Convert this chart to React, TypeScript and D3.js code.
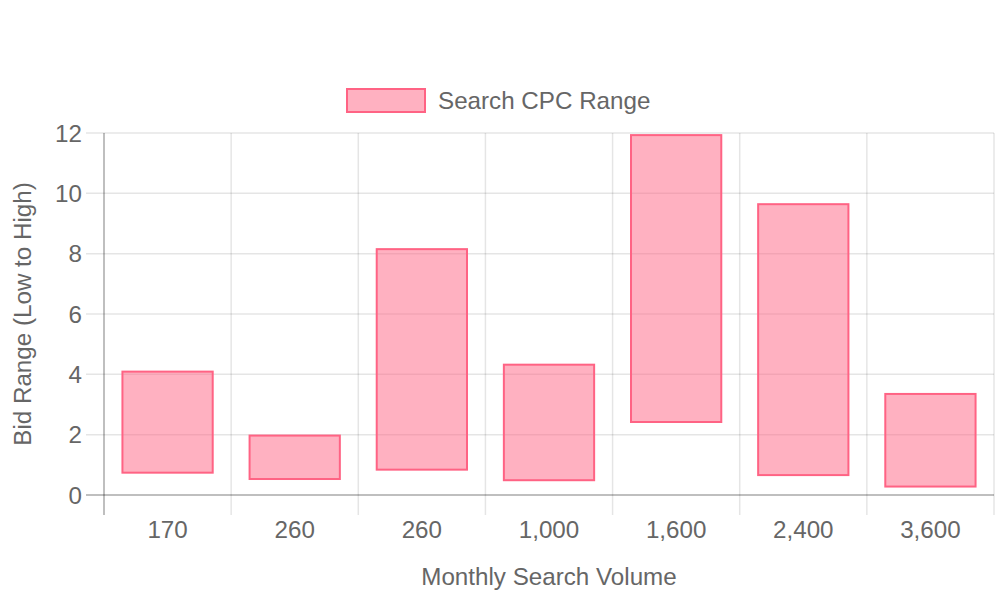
import React from "react";
import * as d3 from "d3";

const categories = ["170", "260", "260", "1,000", "1,600", "2,400", "3,600"];
const lowValues = [0.74, 0.53, 0.84, 0.49, 2.42, 0.66, 0.28];
const highValues = [4.09, 1.97, 8.15, 4.32, 11.93, 9.64, 3.35];
const yTicks = [0, 2, 4, 6, 8, 10, 12];
const seriesName = "Search CPC Range";
const xTitle = "Monthly Search Volume";
const yTitle = "Bid Range (Low to High)";

const W = 1000;
const H = 600;
const plot = { left: 104, right: 994, top: 133, bottom: 495 };
const FONT = "'Liberation Sans', Arial, Helvetica, sans-serif";
const TEXT = "#666";
const FILL = "rgba(255,99,132,0.5)";
const STROKE = "rgb(255,99,132)";
const GRID = "rgba(0,0,0,0.1)";
const AXIS = "rgba(0,0,0,0.25)";

export default function App() {
  const idx = categories.map((_, i) => String(i));
  const x = d3.scaleBand<string>().domain(idx).range([plot.left, plot.right]).paddingInner(0).paddingOuter(0);
  const y = d3.scaleLinear().domain([0, 12]).range([plot.bottom, plot.top]);
  const step = x.step();
  const barW = step * 0.71;
  const fs = 24.2;

  const xBoundaries = d3.range(categories.length + 1).map((i) => plot.left + i * step);

  return (
    <svg
      width={W}
      height={H}
      style={{ position: "absolute", left: 0, top: 0, background: "#fff" }}
      fontFamily={FONT}
    >
      {yTicks.map((t) => (
        <line
          key={"hy" + t}
          x1={plot.left - 18}
          x2={plot.right}
          y1={y(t)}
          y2={y(t)}
          stroke={t === 0 ? AXIS : GRID}
          strokeWidth={t === 0 ? 2 : 1.5}
        />
      ))}
      {xBoundaries.map((bx, i) => (
        <line
          key={"vx" + i}
          x1={bx}
          x2={bx}
          y1={plot.top}
          y2={plot.bottom + 20}
          stroke={i === 0 ? AXIS : GRID}
          strokeWidth={i === 0 ? 2 : 1.5}
        />
      ))}
      {categories.map((c, i) => {
        const cx = (x(String(i)) as number) + step / 2;
        const top = y(highValues[i]);
        const bot = y(lowValues[i]);
        return (
          <rect
            key={"b" + i}
            x={cx - barW / 2}
            y={top}
            width={barW}
            height={bot - top}
            fill={FILL}
            stroke={STROKE}
            strokeWidth={2}
          />
        );
      })}
      {yTicks.map((t) => (
        <text
          key={"yl" + t}
          x={82}
          y={y(t)}
          textAnchor="end"
          dominantBaseline="central"
          fontSize={fs}
          fill={TEXT}
        >
          {t}
        </text>
      ))}
      {categories.map((c, i) => (
        <text
          key={"xl" + i}
          x={(x(String(i)) as number) + step / 2}
          y={538}
          textAnchor="middle"
          fontSize={fs}
          fill={TEXT}
        >
          {c}
        </text>
      ))}
      <text
        x={(plot.left + plot.right) / 2}
        y={585}
        textAnchor="middle"
        fontSize={fs}
        fill={TEXT}
      >
        {xTitle}
      </text>
      <text
        transform={`translate(31, ${(plot.top + plot.bottom) / 2}) rotate(-90)`}
        textAnchor="middle"
        fontSize={fs}
        fill={TEXT}
      >
        {yTitle}
      </text>
      <rect x={347} y={89} width={78} height={23} fill={FILL} stroke={STROKE} strokeWidth={2} />
      <text x={438} y={109} fontSize={fs} fill={TEXT}>
        {seriesName}
      </text>
    </svg>
  );
}
